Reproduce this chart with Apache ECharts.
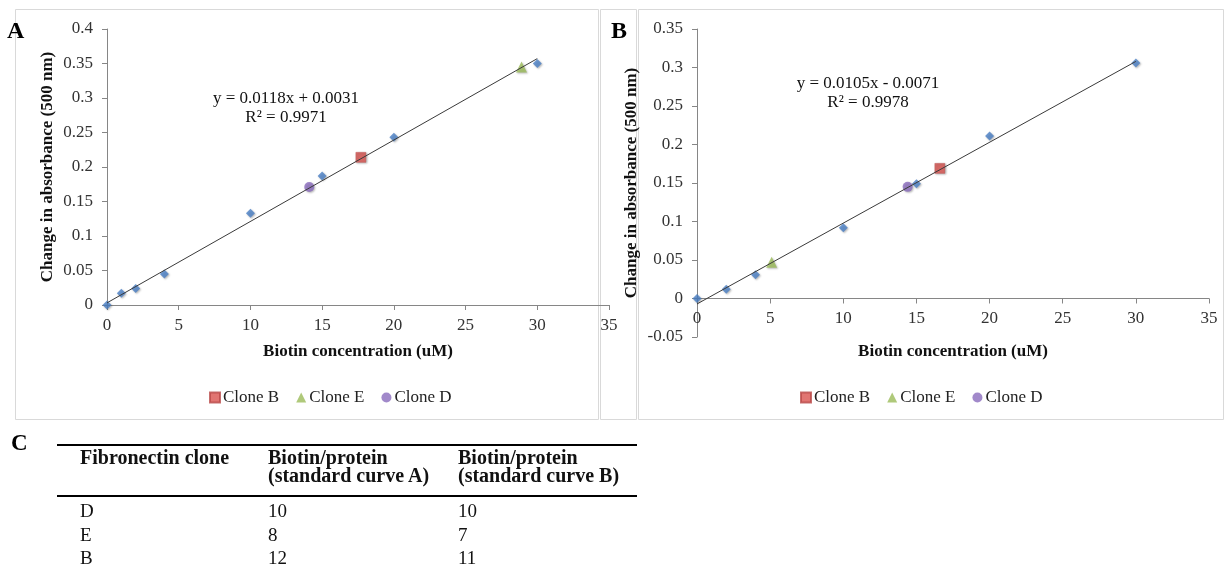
<!DOCTYPE html>
<html>
<head>
<meta charset="utf-8">
<script src="https://cdn.jsdelivr.net/npm/echarts@6/dist/echarts.min.js"></script>
<style>
  html, body { margin: 0; padding: 0; background: #fff; }
  #chart { position: absolute; left: 0; top: 0; width: 1225px; height: 566px; }
  .tbl-letter { position: absolute; left: 11px; top: 430px; font: bold 23px 'Liberation Serif', 'Times New Roman', serif; color: #000; }
  #tbl { position: absolute; left: 57px; top: 444px; width: 580px; border-collapse: collapse; font-family: 'Liberation Serif', 'Times New Roman', serif; color: #111; }
  #tbl th { font-weight: bold; font-size: 20px; line-height: 18px; text-align: left; vertical-align: top; padding: 2px 0 11px 0; }
  #tbl thead tr { border-top: 2px solid #000; border-bottom: 2px solid #000; }
  #tbl td { font-size: 19px; line-height: 23.5px; padding: 0; }
  #tbl tbody tr:first-child td { padding-top: 2px; }
  #tbl .c1 { padding-left: 23px; width: 188px; }
  #tbl .c2 { width: 190px; }
</style>
</head>
<body>
<div id="chart"></div>
<div class="tbl-letter">C</div>
<table id="tbl"><thead></thead><tbody></tbody></table>
<script>
// standard curve A
const concA = [0, 1, 2, 4, 10, 15, 20, 30];
const absA = [0, 0.017, 0.024, 0.045, 0.133, 0.187, 0.243, 0.350];
const trendXA = [0, 30];
const trendYA = [0.0031, 0.3571];
const cloneBA = [17.7, 0.214];
const cloneEA = [28.9, 0.345];
const cloneDA = [14.1, 0.171];

// standard curve B
const concB = [0, 2, 4, 10, 15, 20, 30];
const absB = [0, 0.012, 0.031, 0.092, 0.149, 0.211, 0.306];
const trendXB = [0, 30];
const trendYB = [-0.0071, 0.3079];
const cloneBB = [16.6, 0.169];
const cloneEB = [5.1, 0.047];
const cloneDB = [14.4, 0.145];

const eqA = ['y = 0.0118x + 0.0031', 'R² = 0.9971'];
const eqB = ['y = 0.0105x - 0.0071', 'R² = 0.9978'];
const cloneNames = ['Clone B', 'Clone E', 'Clone D'];

// table C
const tableHead = [['Fibronectin clone'], ['Biotin/protein', '(standard curve A)'], ['Biotin/protein', '(standard curve B)']];
const tableClones = ['D', 'E', 'B'];
const ratioA = [10, 8, 12];
const ratioB = [10, 7, 11];

const serif = "'Liberation Serif', 'Times New Roman', serif";
const axisGray = '#868686';
const colors = { std: '#4a80c6', B: '#d9534f', E: '#9bbb59', D: '#8a6bbd' };
const shadow = { shadowBlur: 2, shadowColor: 'rgba(0,0,0,0.35)', shadowOffsetX: 1, shadowOffsetY: 1 };

function pairs(xs, ys) {
  return xs.map((x, i) => [x, ys[i]]);
}

// offset moves the x axis up onto y = 0 (panel B goes below zero)
function makeX(idx, nameGap, offset) {
  return {
    gridIndex: idx, type: 'value', min: 0, max: 35, interval: 5,
    offset: offset,
    name: 'Biotin concentration (uM)', nameLocation: 'middle', nameGap: nameGap,
    nameTextStyle: { fontFamily: serif, fontWeight: 'bold', fontSize: 17, color: '#111' },
    axisLine: { onZero: false, lineStyle: { color: axisGray } },
    axisTick: { show: true, length: 5, lineStyle: { color: axisGray } },
    axisLabel: { margin: 12, fontFamily: serif, fontSize: 17, color: '#333' },
    splitLine: { show: false }
  };
}

function makeY(idx, min, max, nameGap) {
  return {
    gridIndex: idx, type: 'value', min: min, max: max, interval: 0.05,
    name: 'Change in absorbance (500 nm)', nameLocation: 'middle', nameGap: nameGap,
    nameTextStyle: { fontFamily: serif, fontWeight: 'bold', fontSize: 17, color: '#111' },
    axisLine: { show: true, onZero: false, lineStyle: { color: axisGray } },
    axisTick: { show: true, length: 5, lineStyle: { color: axisGray } },
    axisLabel: { margin: 14, fontFamily: serif, fontSize: 17, color: '#333' },
    splitLine: { show: false }
  };
}

function makeSeries(idx, conc, abs, tx, ty, cb, ce, cd) {
  return [
    {
      name: 'Standard', type: 'scatter', xAxisIndex: idx, yAxisIndex: idx,
      symbol: 'diamond', symbolSize: 9, data: pairs(conc, abs),
      itemStyle: Object.assign({ color: colors.std }, shadow), z: 2
    },
    {
      name: 'Clone B', type: 'scatter', xAxisIndex: idx, yAxisIndex: idx,
      symbol: 'rect', symbolSize: 10, data: [cb],
      itemStyle: Object.assign({ color: colors.B, borderColor: '#b94a48', borderWidth: 0.5 }, shadow), z: 2
    },
    {
      name: 'Clone E', type: 'scatter', xAxisIndex: idx, yAxisIndex: idx,
      symbol: 'triangle', symbolSize: 11, data: [ce],
      itemStyle: Object.assign({ color: colors.E }, shadow), z: 2
    },
    {
      name: 'Clone D', type: 'scatter', xAxisIndex: idx, yAxisIndex: idx,
      symbol: 'circle', symbolSize: 10, data: [cd],
      itemStyle: Object.assign({ color: colors.D }, shadow), z: 2
    },
    {
      name: 'Linear', type: 'line', xAxisIndex: idx, yAxisIndex: idx,
      showSymbol: false, data: pairs(tx, ty), silent: true,
      lineStyle: { color: '#3a3a3a', width: 1 }, z: 3
    }
  ];
}

function makeLegend(left) {
  return {
    data: cloneNames, left: left, top: 384, orient: 'horizontal',
    itemWidth: 10, itemHeight: 10, itemGap: 17,
    textStyle: { fontFamily: serif, fontSize: 17, color: '#222', padding: [0, 0, 0, -2] }
  };
}

function eqText(lines, cx, y0) {
  return lines.map((t, i) => ({
    type: 'text', x: cx, y: y0 + i * 19,
    style: { text: t, fontFamily: serif, fontSize: 17, fill: '#111', align: 'center', verticalAlign: 'middle' }
  }));
}

const frameStyle = { fill: 'none', stroke: '#d9d9d9', lineWidth: 1 };

const option = {
  animation: false,
  backgroundColor: '#fff',
  grid: [
    { left: 107, top: 29, width: 502, height: 276 },
    { left: 697, top: 29, width: 512, height: 308 }
  ],
  xAxis: [makeX(0, 38, 0), makeX(1, 45, -38.5)],
  yAxis: [makeY(0, 0, 0.4, 51), makeY(1, -0.05, 0.35, 57)],
  legend: [makeLegend(204), makeLegend(795)],
  series: makeSeries(0, concA, absA, trendXA, trendYA, cloneBA, cloneEA, cloneDA)
    .concat(makeSeries(1, concB, absB, trendXB, trendYB, cloneBB, cloneEB, cloneDB)),
  graphic: [
    { type: 'rect', shape: { x: 15.5, y: 9.5, width: 583, height: 410 }, style: frameStyle, z: -1 },
    { type: 'rect', shape: { x: 600.5, y: 9.5, width: 36, height: 410 }, style: frameStyle, z: -1 },
    { type: 'rect', shape: { x: 638.5, y: 9.5, width: 585, height: 410 }, style: frameStyle, z: -1 },
    { type: 'text', x: 7, y: 32, style: { text: 'A', fontFamily: serif, fontWeight: 'bold', fontSize: 24, fill: '#000', verticalAlign: 'middle' } },
    { type: 'text', x: 611, y: 32, style: { text: 'B', fontFamily: serif, fontWeight: 'bold', fontSize: 24, fill: '#000', verticalAlign: 'middle' } }
  ].concat(eqText(eqA, 286, 99)).concat(eqText(eqB, 868, 84))
};

const chart = echarts.init(document.getElementById('chart'), null, { renderer: 'canvas' });
chart.setOption(option);

// table C
const thead = document.querySelector('#tbl thead');
const hr = document.createElement('tr');
tableHead.forEach((lines, i) => {
  const th = document.createElement('th');
  th.className = 'c' + (i + 1);
  th.innerHTML = lines.join('<br>');
  hr.appendChild(th);
});
thead.appendChild(hr);
const tbody = document.querySelector('#tbl tbody');
tableClones.forEach((c, i) => {
  const tr = document.createElement('tr');
  [c, ratioA[i], ratioB[i]].forEach((v, j) => {
    const td = document.createElement('td');
    td.className = 'c' + (j + 1);
    td.textContent = v;
    tr.appendChild(td);
  });
  tbody.appendChild(tr);
});
</script>
</body>
</html>
